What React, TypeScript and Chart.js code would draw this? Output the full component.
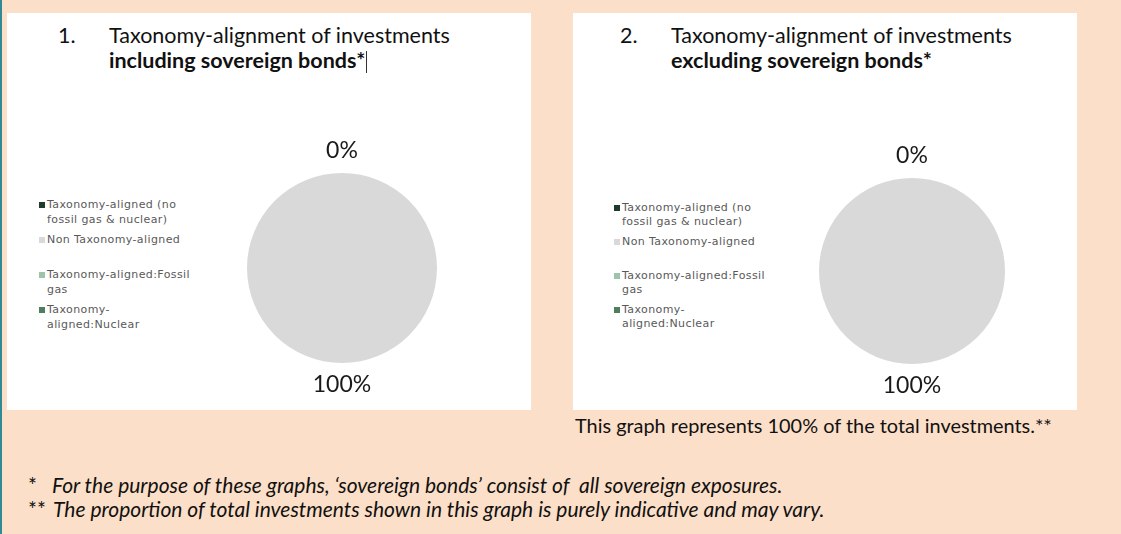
import React, { useEffect, useRef } from "react";
import { Chart, registerables } from "chart.js";

Chart.register(...registerables);

// ---------- data ----------
const categories = [
  "Taxonomy-aligned (no fossil gas & nuclear)",
  "Non Taxonomy-aligned",
  "Taxonomy-aligned:Fossil gas",
  "Taxonomy-aligned:Nuclear",
];
const legendLines = [
  ["Taxonomy-aligned (no", "fossil gas & nuclear)"],
  ["Non Taxonomy-aligned"],
  ["Taxonomy-aligned:Fossil", "gas"],
  ["Taxonomy-", "aligned:Nuclear"],
];
const sliceColors = ["#1F3B29", "#D9D9D9", "#9DC4A6", "#4E7E5B"];
const includingSovereignValues = [0, 100, 0, 0];
const excludingSovereignValues = [0, 100, 0, 0];
const panelTitles = [
  { num: "1.", line1: "Taxonomy-alignment of investments", line2: "including sovereign bonds*" },
  { num: "2.", line1: "Taxonomy-alignment of investments", line2: "excluding sovereign bonds*" },
];
const caption = "This graph represents 100% of the total investments.**";
const footnotes = [
  { mark: "*", text: "For the purpose of these graphs, \u2018sovereign bonds\u2019 consist of  all sovereign exposures." },
  { mark: "**", text: "The proportion of total investments shown in this graph is purely indicative and may vary." },
];

// ---------- plugin: percentage labels outside the pie ----------
const pctLabels = {
  id: "pctLabels",
  afterDatasetsDraw(chart: any) {
    const ctx = chart.ctx;
    const meta = chart.getDatasetMeta(0);
    const data = chart.data.datasets[0].data as number[];
    const total = data.reduce((a: number, b: number) => a + b, 0);
    const seen = new Set<string>();
    ctx.save();
    ctx.font = "23px Lato";
    ctx.fillStyle = "#1a1a1a";
    ctx.textAlign = "center";
    ctx.textBaseline = "middle";
    meta.data.forEach((arc: any, i: number) => {
      const p = arc.getProps(["x", "y", "startAngle", "endAngle", "outerRadius"], true);
      const mid = (p.startAngle + p.endAngle) / 2;
      const r = p.outerRadius + 22;
      const lx = p.x + Math.cos(mid) * r;
      const ly = p.y + Math.sin(mid) * r;
      const key = Math.round(lx) + "," + Math.round(ly);
      if (seen.has(key)) return;
      seen.add(key);
      ctx.fillText(Math.round((data[i] / total) * 100) + "%", lx, ly);
    });
    ctx.restore();
  },
};

function PieChart(props: { values: number[]; left: number; top: number; size: number; pad: number }) {
  const ref = useRef<HTMLCanvasElement | null>(null);
  useEffect(() => {
    if (!ref.current) return;
    const chart = new Chart(ref.current, {
      type: "pie",
      data: {
        labels: categories,
        datasets: [
          {
            data: props.values,
            backgroundColor: sliceColors,
            borderWidth: 0,
          },
        ],
      },
      options: {
        responsive: false,
        animation: false,
        layout: { padding: props.pad },
        plugins: { legend: { display: false }, tooltip: { enabled: false } },
      },
      plugins: [pctLabels],
    });
    return () => chart.destroy();
  }, []);
  return (
    <canvas
      ref={ref}
      width={props.size}
      height={props.size}
      style={{ position: "absolute", left: props.left, top: props.top, width: props.size, height: props.size }}
    />
  );
}

function Legend(props: { left: number; top: number; step: number; lineH: number }) {
  return (
    <>
      {legendLines.map((lines, i) => (
        <div
          key={i}
          style={{
            position: "absolute",
            left: props.left,
            top: props.top + i * props.step,
            fontFamily: "'DejaVu Sans', Verdana, sans-serif",
            fontSize: 11,
            letterSpacing: "0.4px",
            lineHeight: props.lineH + "px",
            color: "#595959",
            whiteSpace: "nowrap",
          }}
        >
          <span
            style={{
              position: "absolute",
              left: -8,
              top: props.lineH / 2 - 3,
              width: 6,
              height: 6,
              background: sliceColors[i],
            }}
          />
          {lines.map((l, j) => (
            <div key={j}>{l}</div>
          ))}
        </div>
      ))}
    </>
  );
}

function Title(props: { left: number; idx: number; cursor?: boolean }) {
  const t = panelTitles[props.idx];
  const font = "Lato, Carlito, Calibri, sans-serif";
  return (
    <>
      <div style={{ position: "absolute", left: props.left, top: 23, fontFamily: font, fontSize: 21.5, lineHeight: "25px", color: "#111" }}>
        {t.num}
      </div>
      <div style={{ position: "absolute", left: props.left + 51, top: 23, fontFamily: font, fontSize: 21.5, lineHeight: "25px", color: "#111", whiteSpace: "nowrap" }}>
        <div>{t.line1}</div>
        <div style={{ fontWeight: 700 }}>
          {t.line2}
          {props.cursor ? (
            <span style={{ display: "inline-block", width: 1, height: 22, background: "#333", verticalAlign: "-5px", marginLeft: 1 }} />
          ) : null}
        </div>
      </div>
    </>
  );
}

export default function App() {
  return (
    <div
      style={{
        position: "fixed",
        left: 0,
        top: 0,
        width: 1121,
        height: 534,
        background: "#FCDFC8",
        overflow: "hidden",
      }}
    >
      {/* left teal rule */}
      <div style={{ position: "absolute", left: 0, top: 0, width: 2, height: 534, background: "#2F8A94" }} />

      {/* panel 1 */}
      <div style={{ position: "absolute", left: 7, top: 13, width: 524, height: 397, background: "#fff" }} />
      <Title left={58} idx={0} cursor />
      <Legend left={47} top={197} step={35} lineH={15} />
      <PieChart values={includingSovereignValues} left={212} top={138} size={260} pad={35} />

      {/* panel 2 */}
      <div style={{ position: "absolute", left: 573, top: 13, width: 504, height: 397, background: "#fff" }} />
      <Title left={620} idx={1} />
      <Legend left={622} top={201} step={34} lineH={14} />
      <PieChart values={excludingSovereignValues} left={782} top={141} size={260} pad={37} />

      {/* caption */}
      <div
        style={{
          position: "absolute",
          left: 575,
          top: 413,
          fontFamily: "Lato, Carlito, Calibri, sans-serif",
          fontSize: 19.9,
          lineHeight: "24px",
          color: "#111",
          whiteSpace: "nowrap",
        }}
      >
        {caption}
      </div>

      {/* footnotes */}
      {footnotes.map((f, i) => (
        <div
          key={i}
          style={{
            position: "absolute",
            left: 28,
            top: 473 + i * 24,
            fontFamily: "Lato, Carlito, Calibri, sans-serif",
            fontSize: 21,
            lineHeight: "24px",
            color: "#111",
            whiteSpace: "pre",
          }}
        >
          <span style={{ display: "inline-block", width: i === 0 ? 24 : 25, fontStyle: "normal" }}>{f.mark}</span>
          <span style={{ fontStyle: "italic" }}>{f.text}</span>
        </div>
      ))}
    </div>
  );
}
